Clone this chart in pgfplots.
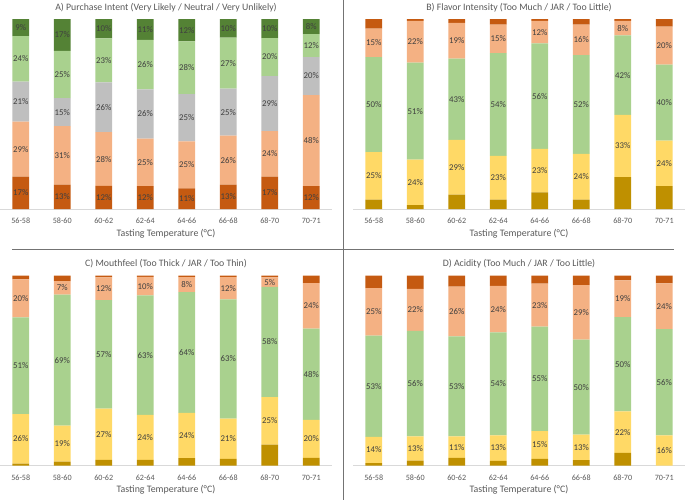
\documentclass[border=0pt]{standalone}
\usepackage{pgfplots}
\pgfplotsset{compat=1.18}
\usepackage{pgfplotstable}
\usepackage{fontspec}
\setmainfont{Carlito}

\definecolor{cDO}{HTML}{C55A11}
\definecolor{cLO}{HTML}{F4B183}
\definecolor{cGR}{HTML}{BFBFBF}
\definecolor{cLG}{HTML}{A9D18E}
\definecolor{cDG}{HTML}{548235}
\definecolor{cYE}{HTML}{FFD966}
\definecolor{cGO}{HTML}{BF9000}
\definecolor{cTX}{HTML}{595959}
\definecolor{cLB}{HTML}{404040}
\definecolor{cAX}{HTML}{D9D9D9}

% A) Purchase intent: a=very unlikely, b=unlikely, c=neutral, d=likely, e=very likely
\pgfplotstableread{
x a b c d e
0 17 29 21 24 9
1 12.8 30.8 14.8 24.8 16.8
2 12.2 28.2 26.2 23.2 10.2
3 12 25 26 26 11
4 10.8 24.8 24.8 27.8 11.8
5 12.8 25.8 24.8 26.8 9.8
6 17 24 29 20 10
7 12 48 20 12 8
}\tabA
% B) Flavor intensity: a=much too little, b=too little, c=JAR, d=too much, e=much too much
\pgfplotstableread{
x a b c d e
0 5 25 50 15 5
1 2 24 51 22 1
2 7.6 28.8 42.8 18.8 2
3 5 23 54 15 3
4 8.8 22.8 55.6 11.8 1
5 5 24 52 16 3
6 16.8 32.8 41.8 7.6 1
7 12 24 40 20 4
}\tabB
% C) Mouthfeel
\pgfplotstableread{
x a b c d e
0 1 26 51 20 2
1 2 19 69 7 3
2 3 27 57 12 1
3 3 23.7 62.8 9.8 0.7
4 3.9 23.8 63.6 7.9 0.8
5 3.5 21.2 62.8 11.6 0.9
6 11 25 58 5 1
7 4 20 48 24 4
}\tabC
% D) Acidity
\pgfplotstableread{
x a b c d e
0 1.2 13.9 53.2 25 6.7
1 2.6 12.7 55.5 22.2 7
2 4 11.3 52.6 26.3 5.8
3 2.5 13.4 54.2 24.4 5.5
4 3.5 14.6 55 22.6 4.3
5 2.8 13.4 50 28.7 5.1
6 6.7 21.8 49.6 19.4 2.5
7 0 15.8 56 24 4.2
}\tabD

% segment midpoints for the labels
\newcommand\addmids[1]{%
  \pgfplotstablecreatecol[expr={\thisrow{a}/2}]{ma}{#1}%
  \pgfplotstablecreatecol[expr={\thisrow{a}+\thisrow{b}/2}]{mb}{#1}%
  \pgfplotstablecreatecol[expr={\thisrow{a}+\thisrow{b}+\thisrow{c}/2}]{mc}{#1}%
  \pgfplotstablecreatecol[expr={\thisrow{a}+\thisrow{b}+\thisrow{c}+\thisrow{d}/2}]{md}{#1}%
  \pgfplotstablecreatecol[expr={\thisrow{a}+\thisrow{b}+\thisrow{c}+\thisrow{d}+\thisrow{e}/2}]{me}{#1}%
}
\addmids\tabA
\addmids\tabB
\addmids\tabC
\addmids\tabD

\pgfplotsset{
  panel/.style={
    scale only axis, width=332pt, height=190pt,
    ybar stacked, bar width=16.7pt,
    xmin=-0.5, xmax=7.5, ymin=0, ymax=100,
    clip=false,
    axis x line*=bottom, axis y line=none,
    axis line style={draw=cAX, line width=0.8pt, -},
    xtick={0,...,7},
    xticklabels={56-58,58-60,60-62,62-64,64-66,66-68,68-70,70-71},
    major tick length=0pt, ytick=\empty,
    xticklabel style={font=\fontsize{8.1}{9}\selectfont, text=cTX, anchor=base, yshift=-14.6pt},
    xlabel={Tasting Temperature (°C)},
    xlabel style={font=\fontsize{9.9}{11}\selectfont, text=cTX, at={(axis description cs:0.5,0)}, anchor=base, yshift=-27pt},
    every axis title/.style={font=\fontsize{9.8}{11}\selectfont, text=cTX, at={(axis description cs:0.5,1)}, anchor=base, yshift=8.7pt},
  },
  over/.style={
    scale only axis, width=332pt, height=190pt,
    xmin=-0.5, xmax=7.5, ymin=0, ymax=100,
    clip=false, hide axis,
  },
  lab/.style={
    draw=none, mark=none, point meta=\thisrow{#1},
    nodes near coords={\pgfmathprintnumber[fixed,precision=0,assume math mode=true]{\pgfplotspointmeta}\%},
    every node near coord/.style={font=\fontsize{8.8}{9}\selectfont, text=cLB, anchor=center, inner sep=0pt},
  },
}

\begin{document}
\begin{tikzpicture}
\useasboundingbox (0pt,0pt) rectangle (685pt,-501pt);

% ---------- A ----------
\begin{axis}[panel, at={(0pt,-209pt)}, anchor=south west,
  title={A) Purchase Intent (Very Likely / Neutral / Very Unlikely)}]
\addplot[fill=cDO, draw=none] table[x=x,y=a]{\tabA};
\addplot[fill=cLO, draw=none] table[x=x,y=b]{\tabA};
\addplot[fill=cGR, draw=none] table[x=x,y=c]{\tabA};
\addplot[fill=cLG, draw=none] table[x=x,y=d]{\tabA};
\addplot[fill=cDG, draw=none] table[x=x,y=e]{\tabA};
\end{axis}
\begin{axis}[over, at={(0pt,-209pt)}, anchor=south west]
\addplot[lab=a] table[x=x,y=ma]{\tabA};
\addplot[lab=b] table[x=x,y=mb]{\tabA};
\addplot[lab=c] table[x=x,y=mc]{\tabA};
\addplot[lab=d] table[x=x,y=md]{\tabA};
\addplot[lab=e] table[x=x,y=me]{\tabA};
\end{axis}

% ---------- B ----------
\begin{axis}[panel, at={(353pt,-209pt)}, anchor=south west,
  title={B) Flavor Intensity (Too Much / JAR / Too Little)}]
\addplot[fill=cGO, draw=none] table[x=x,y=a]{\tabB};
\addplot[fill=cYE, draw=none] table[x=x,y=b]{\tabB};
\addplot[fill=cLG, draw=none] table[x=x,y=c]{\tabB};
\addplot[fill=cLO, draw=none] table[x=x,y=d]{\tabB};
\addplot[fill=cDO, draw=none] table[x=x,y=e]{\tabB};
\end{axis}
\begin{axis}[over, at={(353pt,-209pt)}, anchor=south west]
\addplot[lab=b] table[x=x,y=mb]{\tabB};
\addplot[lab=c] table[x=x,y=mc]{\tabB};
\addplot[lab=d] table[x=x,y=md]{\tabB};
\end{axis}

% ---------- C ----------
\begin{axis}[panel, at={(0pt,-465.5pt)}, anchor=south west,
  title={C) Mouthfeel (Too Thick / JAR / Too Thin)}]
\addplot[fill=cGO, draw=none] table[x=x,y=a]{\tabC};
\addplot[fill=cYE, draw=none] table[x=x,y=b]{\tabC};
\addplot[fill=cLG, draw=none] table[x=x,y=c]{\tabC};
\addplot[fill=cLO, draw=none] table[x=x,y=d]{\tabC};
\addplot[fill=cDO, draw=none] table[x=x,y=e]{\tabC};
\end{axis}
\begin{axis}[over, at={(0pt,-465.5pt)}, anchor=south west]
\addplot[lab=b] table[x=x,y=mb]{\tabC};
\addplot[lab=c] table[x=x,y=mc]{\tabC};
\addplot[lab=d] table[x=x,y=md]{\tabC};
\end{axis}

% ---------- D ----------
\begin{axis}[panel, at={(353pt,-465.5pt)}, anchor=south west,
  title={D) Acidity (Too Much / JAR / Too Little)}]
\addplot[fill=cGO, draw=none] table[x=x,y=a]{\tabD};
\addplot[fill=cYE, draw=none] table[x=x,y=b]{\tabD};
\addplot[fill=cLG, draw=none] table[x=x,y=c]{\tabD};
\addplot[fill=cLO, draw=none] table[x=x,y=d]{\tabD};
\addplot[fill=cDO, draw=none] table[x=x,y=e]{\tabD};
\end{axis}
\begin{axis}[over, at={(353pt,-465.5pt)}, anchor=south west]
\addplot[lab=b] table[x=x,y=mb]{\tabD};
\addplot[lab=c] table[x=x,y=mc]{\tabD};
\addplot[lab=d] table[x=x,y=md]{\tabD};
\end{axis}

\draw[color=black!55, line width=0.8pt] (343pt,0pt) -- (343pt,-500pt);
\draw[color=black!55, line width=0.8pt] (12pt,-249pt) -- (674pt,-249pt);
\end{tikzpicture}
\end{document}
